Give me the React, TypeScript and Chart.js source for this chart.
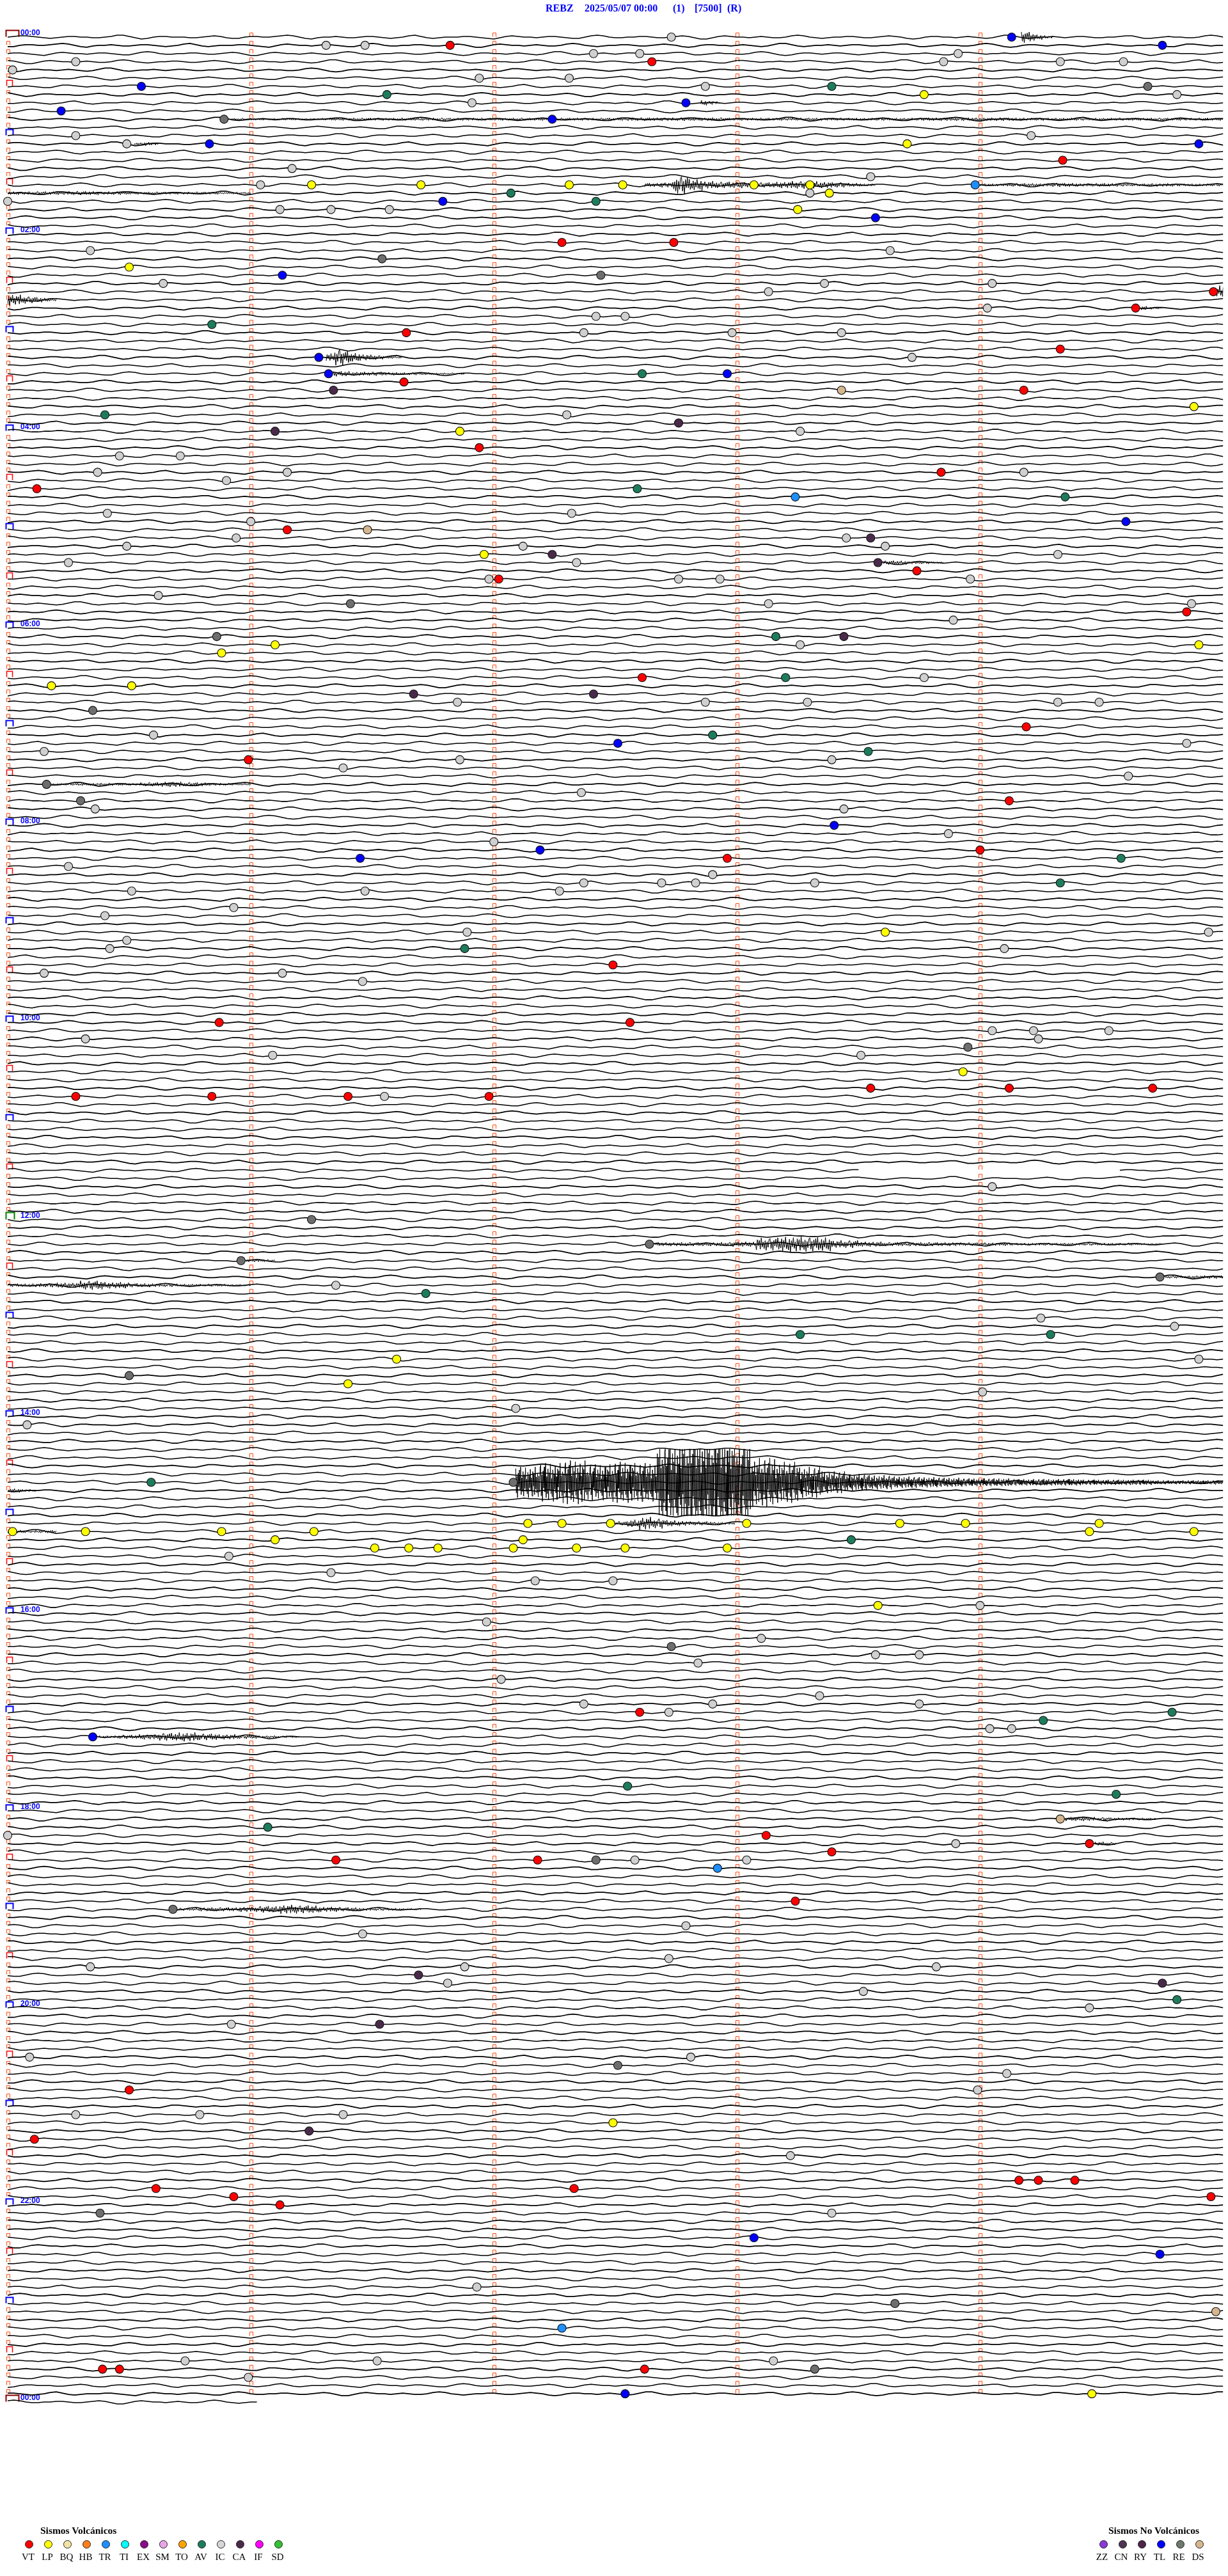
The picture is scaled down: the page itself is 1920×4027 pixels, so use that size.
import React, { useEffect, useRef } from "react";
import { Chart, registerables } from "chart.js";

Chart.register(...registerables);

// ---------- layout / scale constants ----------
const MINUTES_PER_LINE = 5;
const LINE_COUNT = 289;
const LAST_LINE_MINUTES = 1.03;
const SAMPLE_STEP = 0.025;
const EVENT_STEP = 0.004;
const BIG_STEP = 0.0025;
const PX_PER_LINE = 12.837;

// ---------- text ----------
const TITLE_PARTS = ["REBZ", "2025/05/07 00:00", "(1)", "[7500]", "(R)"];
const HOUR_LABELS = ["00:00", "02:00", "04:00", "06:00", "08:00", "10:00", "12:00", "14:00", "16:00", "18:00", "20:00", "22:00", "00:00"];

const VOLC_CODES = ["VT", "LP", "BQ", "HB", "TR", "TI", "EX", "SM", "TO", "AV", "IC", "CA", "IF", "SD"];
const VOLC_COLORS = ["#FF0000", "#FFFF00", "#F3E3A6", "#FF7F1E", "#1E8FFF", "#00FFFF", "#8B0A8B", "#E8A6E8", "#FFA500", "#1E7C5E", "#D6D6D6", "#4A2A4A", "#FF00FF", "#33C033"];
const NONVOLC_CODES = ["ZZ", "CN", "RY", "TL", "RE", "DS"];
const NONVOLC_COLORS = ["#8A3AD6", "#4E3552", "#4A2648", "#0000FF", "#70786F", "#D5B68E"];

// ---------- background noise (px, typical microseism pattern read from the record) ----------
const NOISE = [
  0, 1, 2, 2, 1, 0, -1, -2, -1, 0, 1, 1, 0, 0, -1, -1, 0, 1, 3, 3,
  1, -1, -3, -2, 0, 1, 1, 0, 0, 0, -1, -1, 0, 1, 2, 1, -1, -2, -2, 0,
  1, 1, 0, 0, 1, 2, 3, 2, 0, -2, -3, -1, 0, 0, 1, 0, -1, -1, 0, 1,
  1, 0, -1, -2, -1, 0, 2, 3, 1, -1, -2, -1, 0, 0, 0, 1, 1, 0, -1, -2,
  -3, -1, 1, 2, 1, 0, 0, -1, 0, 1, 1, 0, -1, -2, -2, 0, 2, 3, 2, 0,
  -1, -1, 0, 0, 1, 1, 0, -1, -1, 0, 1, 2, 1, -1, -3, -3, -1, 1, 2, 1,
  0, 0, -1, 0, 1, 0, -1, -1, 0, 2, 3, 2, 0, -1, -2, -1, 0, 0, 1, 1,
  0, -1, -1, 0, 1, 2, 1, 0, -2, -3, -2, 0, 1, 1, 0, 0, -1, 0, 1, 0,
  -1, -2, -1, 1, 3, 3, 1, -1, -2, -1, 0, 0, 1, 0, -1, 0, 1, 1, 0, -1,
  -1, 0, 0, 1, 2, 2, 0, -2, -2, -1, 0, 1, 0, 0, -1, -1, 0, 2, 3, 2,
  0, -2, -3, -2, 0, 1, 1, 0, -1, 0, 1, 1, 0, -1, -2, -1, 0, 1, 2, 1,
  0, -1, -1, 0, 0, 1, 0, -1, -2, -2, 0, 2, 2, 1, 0, -1, 0, 0, 1, 0,
];

const JITTER = [0.9, -0.7, 0.4, -1, 0.6, -0.3, 0.8, -0.5, 1, -0.8, 0.3, -0.6, 0.7, -0.9, 0.5, -0.4, 0.95, -0.6, 0.2, -0.75, 0.65, -1, 0.45, -0.35, 0.85, -0.55, 0.3, -0.9, 0.7, -0.25, 0.6, -0.8, 1, -0.45, 0.35, -0.7, 0.55, -0.95, 0.4, -0.5, 0.75];

// data gap
const GAP_LINE = [138];
const GAP_START = [3.52];
const GAP_END = [4.56];

// ---------- recorded waveforms (line, start min, end min, envelope px) ----------
const EVT_LINE = [0, 8, 10, 13, 18, 18, 19, 31, 32, 33, 39, 41, 64, 91, 147, 149, 151, 152, 177, 181, 182, 207, 217, 220, 228];
const EVT_START = [4.17, 2.85, 0.92, 0.52, 2.62, 4.0, 0.0, 4.97, 0.0, 4.66, 1.31, 1.34, 3.6, 0.18, 2.66, 0.98, 4.76, 0.0, 0.0, 2.5, 0.0, 0.37, 4.35, 4.47, 0.7];
const EVT_END = [4.3, 2.93, 5.0, 0.62, 3.57, 5.0, 1.0, 5.0, 0.2, 4.75, 1.62, 1.88, 3.85, 1.0, 4.75, 1.1, 5.0, 1.0, 0.12, 2.99, 0.2, 1.2, 4.72, 4.56, 1.7];
const EVT_ENV = [
  [9, 8, 6, 4, 3, 2],
  [4, 3, 2],
  [1.5, 2, 2, 2, 2.5, 2, 2, 2.5, 2, 2],
  [2, 3, 2],
  [3, 4, 14, 9, 6, 5, 5, 4, 4, 5, 6, 6, 5, 4, 3, 2],
  [2, 2.5, 2.5, 3, 2.5, 2.5, 2, 2.5, 2, 2],
  [2.5, 2.5, 3, 2.5, 2, 2, 2, 1.5],
  [8, 10],
  [9, 8, 6, 5, 4, 3, 2],
  [3, 2, 1.5],
  [6, 13, 10, 7, 5, 4, 3, 2, 1.5],
  [4, 3, 3, 2.5, 2, 2, 1.5, 1.5],
  [3, 3, 2, 2, 1.5],
  [1.5, 2, 2, 2, 3, 4, 3, 2, 1.5],
  [3, 3, 3, 4, 10, 12, 11, 6, 4, 3, 3, 3, 2.5, 2.5, 2, 2, 2, 2, 2, 1.5],
  [2, 2, 1.5],
  [2, 2.5],
  [2.5, 3, 4, 7, 5, 3, 2.5, 2, 2, 1.5],
  [3, 2],
  [3, 6, 10, 8, 5, 4, 3, 3, 2, 2],
  [2.5, 2, 2],
  [2, 3, 4, 6, 7, 5, 4, 3, 2, 1.5],
  [3, 3, 2.5, 2, 2, 1.5],
  [3, 2],
  [2, 3, 3, 4, 5, 7, 6, 4, 3, 2, 2, 1.5],
];

// large event on the 14:40 line
const BIG_LINE = 176;
const BIG_START = 2.09;
const BIG_END = 5.0;
const BIG_CLIP = 52;
const BIG_ENV = [24, 30, 34, 28, 32, 30, 64, 74, 76, 70, 38, 32, 24, 17, 13, 11, 9, 8, 7, 6, 6, 5, 5, 5, 4, 4, 4, 3, 3, 3];

// ---------- classified events: [line index (5-min rows), minute within row] ----------
const VT_EVENTS = [[1, 1.82], [3, 2.65], [15, 4.34], [25, 2.28], [25, 2.74], [31, 4.96], [33, 4.64], [36, 1.64], [38, 4.33], [42, 1.63], [43, 4.18], [50, 1.94], [53, 3.84], [55, 0.12], [60, 1.15], [65, 3.74], [66, 2.02], [70, 4.85], [78, 2.61], [84, 4.19], [88, 0.99], [93, 4.12], [99, 4.0], [100, 2.96], [113, 2.49], [120, 0.87], [120, 2.56], [128, 3.55], [128, 4.12], [128, 4.71], [129, 0.28], [129, 0.84], [129, 1.4], [129, 1.98], [204, 2.6], [219, 3.12], [220, 4.45], [221, 3.39], [222, 1.35], [222, 2.18], [227, 3.24], [250, 0.5], [256, 0.11], [261, 4.16], [261, 4.24], [261, 4.39], [262, 0.61], [262, 2.33], [263, 0.93], [263, 4.95], [264, 1.12], [284, 0.39], [284, 0.46], [284, 2.62]];
const LP_EVENTS = [[7, 3.77], [13, 3.7], [18, 1.25], [18, 1.7], [18, 2.31], [18, 2.53], [18, 3.07], [18, 3.3], [19, 3.38], [21, 3.25], [28, 0.5], [45, 4.88], [48, 1.86], [63, 1.96], [74, 1.1], [74, 4.9], [75, 0.88], [79, 0.18], [79, 0.51], [109, 3.61], [126, 3.93], [161, 1.6], [164, 1.4], [181, 2.14], [181, 2.28], [181, 2.48], [181, 3.04], [181, 3.67], [181, 3.94], [181, 4.49], [182, 0.02], [182, 0.32], [182, 0.88], [182, 1.26], [182, 4.45], [182, 4.88], [183, 1.1], [183, 2.12], [184, 1.51], [184, 1.65], [184, 1.77], [184, 2.08], [184, 2.34], [184, 2.54], [184, 2.96], [191, 3.58], [254, 2.49], [287, 4.46]];
const TR_EVENTS = [[18, 3.98], [56, 3.24], [223, 2.92], [279, 2.28]];
const AV_EVENTS = [[6, 3.39], [7, 1.56], [19, 2.07], [20, 2.42], [35, 0.84], [41, 2.61], [46, 0.4], [55, 2.59], [56, 4.35], [73, 3.16], [78, 3.2], [85, 2.9], [87, 3.54], [100, 4.58], [103, 4.33], [111, 1.88], [153, 1.72], [158, 3.26], [158, 4.29], [176, 0.59], [183, 3.47], [204, 4.79], [205, 4.26], [213, 2.55], [214, 4.56], [218, 1.07], [239, 4.81]];
const IC_EVENTS = [[0, 2.73], [1, 1.31], [1, 1.47], [2, 2.41], [2, 2.6], [2, 3.91], [3, 0.28], [3, 3.85], [3, 4.33], [3, 4.59], [4, 0.02], [5, 1.94], [5, 2.31], [6, 2.87], [7, 4.81], [8, 1.91], [12, 0.28], [12, 4.21], [13, 0.49], [16, 1.17], [17, 3.55], [18, 1.04], [19, 3.3], [20, 0.0], [21, 1.12], [21, 1.33], [21, 1.57], [26, 0.34], [26, 3.63], [30, 0.64], [30, 3.36], [30, 4.05], [31, 3.13], [33, 4.03], [34, 2.42], [34, 2.54], [36, 2.37], [36, 2.98], [36, 3.43], [39, 3.72], [46, 2.3], [48, 3.26], [51, 0.46], [51, 0.71], [53, 0.37], [53, 1.15], [53, 4.18], [54, 0.9], [58, 0.41], [58, 2.32], [59, 1.0], [61, 0.94], [61, 3.45], [62, 0.49], [62, 2.12], [62, 3.61], [63, 4.32], [64, 0.25], [64, 2.34], [66, 1.98], [66, 2.76], [66, 2.93], [66, 3.96], [68, 0.62], [69, 3.13], [69, 4.87], [71, 3.89], [74, 3.26], [78, 3.77], [81, 1.85], [81, 2.87], [81, 3.29], [81, 4.32], [81, 4.49], [85, 0.6], [86, 4.85], [87, 0.15], [88, 1.86], [88, 3.39], [89, 1.38], [90, 4.61], [92, 2.36], [94, 0.36], [94, 3.44], [97, 3.87], [98, 2.0], [101, 0.25], [102, 2.9], [103, 2.37], [103, 2.69], [103, 2.83], [103, 3.32], [104, 0.51], [104, 1.47], [104, 2.27], [106, 0.93], [107, 0.4], [109, 1.89], [109, 4.94], [110, 0.49], [111, 0.42], [111, 4.1], [114, 0.15], [114, 1.13], [115, 1.46], [121, 4.05], [121, 4.22], [121, 4.53], [122, 0.32], [122, 4.24], [124, 1.09], [124, 3.51], [129, 1.55], [140, 4.05], [152, 1.35], [156, 4.25], [157, 4.8], [161, 4.9], [165, 4.01], [167, 2.09], [169, 0.08], [185, 0.91], [187, 1.33], [188, 2.17], [188, 2.49], [191, 4.0], [193, 1.97], [195, 3.1], [197, 3.57], [197, 3.75], [198, 2.84], [200, 2.03], [202, 3.34], [203, 2.37], [203, 2.9], [203, 3.75], [204, 2.72], [206, 4.04], [206, 4.13], [219, 0.0], [220, 3.9], [222, 2.58], [222, 3.04], [230, 2.79], [231, 1.46], [234, 2.72], [235, 0.34], [235, 1.88], [235, 3.82], [237, 1.81], [238, 3.52], [240, 4.45], [242, 0.92], [246, 0.09], [246, 2.81], [248, 4.11], [250, 3.99], [253, 0.28], [253, 0.79], [253, 1.38], [258, 3.22], [265, 3.39], [274, 1.93], [283, 0.73], [283, 1.52], [283, 3.15], [285, 0.99]];
const CA_EVENTS = [[43, 1.34], [47, 2.76], [48, 1.1], [61, 3.55], [63, 2.24], [64, 3.58], [73, 3.44], [80, 1.67], [80, 2.41], [236, 1.69], [237, 4.75], [242, 1.53], [255, 1.24]];
const TL_EVENTS = [[0, 4.13], [1, 4.75], [6, 0.55], [8, 2.79], [9, 0.22], [10, 2.24], [13, 0.83], [13, 4.9], [20, 1.79], [22, 3.57], [29, 1.13], [39, 1.28], [41, 1.32], [41, 2.96], [59, 4.6], [86, 2.51], [96, 3.4], [99, 2.19], [100, 1.45], [207, 0.35], [268, 3.07], [270, 4.74], [287, 2.54]];
const RE_EVENTS = [[6, 4.69], [10, 0.89], [27, 1.54], [29, 2.44], [69, 1.41], [73, 0.86], [82, 0.35], [91, 0.16], [93, 0.3], [123, 3.95], [144, 1.25], [147, 2.64], [149, 0.96], [151, 4.74], [163, 0.5], [176, 2.08], [196, 2.73], [222, 2.42], [228, 0.68], [247, 2.51], [265, 0.38], [276, 3.65], [284, 3.32]];
const DS_EVENTS = [[43, 3.43], [60, 1.48], [217, 4.33], [277, 4.97]];

const EVENT_GROUPS = [
  { code: "VT", color: "#FF0000", pts: VT_EVENTS },
  { code: "LP", color: "#FFFF00", pts: LP_EVENTS },
  { code: "TR", color: "#1E8FFF", pts: TR_EVENTS },
  { code: "AV", color: "#1E7C5E", pts: AV_EVENTS },
  { code: "IC", color: "#D0D0D0", pts: IC_EVENTS },
  { code: "CA", color: "#4A2A4A", pts: CA_EVENTS },
  { code: "TL", color: "#0000FF", pts: TL_EVENTS },
  { code: "RE", color: "#6E6E6E", pts: RE_EVENTS },
  { code: "DS", color: "#D5B68E", pts: DS_EVENTS },
];

// ---------- builders ----------
function buildTrace(i: number) {
  const pts: { x: number; y: number | null }[] = [];
  const maxX = i === LINE_COUNT - 1 ? LAST_LINE_MINUTES : MINUTES_PER_LINE;
  const n = Math.round(maxX / SAMPLE_STEP);
  for (let k = 0; k <= n; k++) {
    const x = k * SAMPLE_STEP;
    let y: number | null = i - NOISE[(i * 37 + k) % NOISE.length] / PX_PER_LINE;
    for (let g = 0; g < GAP_LINE.length; g++) {
      if (GAP_LINE[g] === i && x > GAP_START[g] && x < GAP_END[g]) y = null;
    }
    pts.push({ x, y });
  }
  return pts;
}

function buildEvent(line: number, start: number, end: number, env: number[]) {
  const n = Math.max(2, Math.round((end - start) / EVENT_STEP));
  const pts: { x: number; y: number }[] = [];
  for (let k = 0; k <= n; k++) {
    const e = env[Math.min(env.length - 1, Math.floor((k * env.length) / n))];
    const v = e * JITTER[(k + line * 7) % JITTER.length];
    pts.push({ x: Math.min(end, start + k * EVENT_STEP), y: line - v / PX_PER_LINE });
  }
  return pts;
}

function buildBig() {
  const n = Math.round((BIG_END - BIG_START) / BIG_STEP);
  const pts: { x: number; y: number }[] = [];
  for (let k = 0; k <= n; k++) {
    const e = BIG_ENV[Math.min(BIG_ENV.length - 1, Math.floor((k * BIG_ENV.length) / n))];
    let v = e * JITTER[k % JITTER.length];
    v = Math.max(-BIG_CLIP, Math.min(BIG_CLIP, v));
    pts.push({ x: BIG_START + k * BIG_STEP, y: BIG_LINE - v / PX_PER_LINE });
  }
  return pts;
}

const markerPlugin = {
  id: "heliMarkers",
  beforeDatasetsDraw(chart: any) {
    const { ctx } = chart;
    const xs = chart.scales.x;
    const ys = chart.scales.y;
    ctx.save();
    for (let i = 0; i < LINE_COUNT; i++) {
      const y = Math.round(ys.getPixelForValue(i)) + 0.5;
      const maxMin = i === LINE_COUNT - 1 ? 0 : 4;
      for (let k = 0; k <= maxMin; k++) {
        const x = Math.round(xs.getPixelForValue(k)) + 0.5;
        let color = "#FF4A10";
        let w = 5;
        let h = 6;
        let lw = 1;
        let x0 = x - 2;
        if (k === 0) {
          if (i === 0 || i === LINE_COUNT - 1) {
            color = "#8B0000"; w = 20; h = 10; lw = 2; x0 = x - 3;
          } else if (i === 144) {
            color = "#008000"; w = 13; h = 11; lw = 2; x0 = x - 3;
          } else if (i % 12 === 0) {
            color = "#0000FF"; w = 11; h = 9; lw = 2; x0 = x - 3;
          } else if (i % 6 === 0) {
            color = "#FF0000"; w = 9; h = 9; lw = 1.5; x0 = x - 2;
          }
        }
        ctx.strokeStyle = color;
        ctx.lineWidth = lw;
        ctx.beginPath();
        ctx.moveTo(x0, y - 1);
        ctx.lineTo(x0, y - 1 - h);
        ctx.lineTo(x0 + w, y - 1 - h);
        ctx.lineTo(x0 + w, y - 1);
        ctx.stroke();
      }
      if (i % 24 === 0) {
        ctx.fillStyle = "#0000FF";
        ctx.font = 'bold 12px "Liberation Sans", Arial, sans-serif';
        ctx.textBaseline = "middle";
        ctx.textAlign = "left";
        ctx.fillText(HOUR_LABELS[i / 24], 32, y - 7);
      }
    }
    ctx.restore();
  },
};

function Helicorder() {
  const ref = useRef<HTMLCanvasElement | null>(null);
  useEffect(() => {
    if (!ref.current) return;
    const datasets: any[] = [];
    EVENT_GROUPS.forEach((g) => {
      datasets.push({
        label: g.code,
        data: g.pts.map((p) => ({ x: p[1], y: p[0] })),
        showLine: false,
        pointRadius: 6.5,
        pointBackgroundColor: g.color,
        pointBorderColor: "#111",
        pointBorderWidth: 1.1,
        order: 0,
        clip: false,
      });
    });
    datasets.push({
      label: "big",
      data: buildBig(),
      borderColor: "#000",
      borderWidth: 1,
      pointRadius: 0,
      order: 1,
    });
    for (let e = 0; e < EVT_LINE.length; e++) {
      datasets.push({
        label: "evt" + e,
        data: buildEvent(EVT_LINE[e], EVT_START[e], EVT_END[e], EVT_ENV[e]),
        borderColor: "#000",
        borderWidth: 1,
        pointRadius: 0,
        order: 1,
      });
    }
    for (let i = 0; i < LINE_COUNT; i++) {
      datasets.push({
        label: "line" + i,
        data: buildTrace(i),
        borderColor: "#000",
        borderWidth: 1.6,
        pointRadius: 0,
        spanGaps: false,
        order: 2,
      });
    }
    const chart = new Chart(ref.current, {
      type: "line",
      data: { datasets },
      options: {
        responsive: false,
        animation: false,
        devicePixelRatio: 1,
        events: [],
        layout: { padding: { left: 12, right: 3, top: 19.5, bottom: 233.5 } },
        plugins: { legend: { display: false }, tooltip: { enabled: false }, title: { display: false } },
        elements: { line: { tension: 0, borderJoinStyle: "round" } },
        scales: {
          x: { type: "linear", min: 0, max: MINUTES_PER_LINE, display: false },
          y: { type: "linear", min: -3, max: 291, reverse: true, display: false },
        },
      },
      plugins: [markerPlugin],
    } as any);
    return () => chart.destroy();
  }, []);
  return <canvas ref={ref} width={1920} height={4027} style={{ display: "block", position: "absolute", left: 0, top: 0 }} />;
}

const TITLE_LEFT = [853, 914, 1052, 1086, 1137];

export default function App() {
  const serif = '"Liberation Serif", "Times New Roman", serif';
  return (
    <div style={{ position: "absolute", left: 0, top: 0, width: 1920, height: 4027, background: "#fff", overflow: "hidden" }}>
      <Helicorder />
      {TITLE_PARTS.map((t, i) => (
        <div key={t} style={{ position: "absolute", left: TITLE_LEFT[i], top: 4, fontFamily: serif, fontWeight: "bold", fontSize: 16, lineHeight: "18px", color: "#0000FF", whiteSpace: "pre" }}>{t}</div>
      ))}
      <div style={{ position: "absolute", left: 63, top: 3947, fontFamily: serif, fontWeight: "bold", fontSize: 15.5, lineHeight: "18px", color: "#000", whiteSpace: "pre" }}>Sismos Volcánicos</div>
      {VOLC_CODES.map((c, j) => (
        <React.Fragment key={c}>
          <div style={{ position: "absolute", left: 45 + 30 * j - 6.5, top: 3970.5, width: 11, height: 11, borderRadius: "50%", background: VOLC_COLORS[j], border: "1px solid #222" }} />
          <div style={{ position: "absolute", left: 45 + 30 * j - 20, width: 38, top: 3988, textAlign: "center", fontFamily: serif, fontSize: 15, lineHeight: "18px", color: "#000" }}>{c}</div>
        </React.Fragment>
      ))}
      <div style={{ position: "absolute", left: 1733, top: 3947, fontFamily: serif, fontWeight: "bold", fontSize: 15.5, lineHeight: "18px", color: "#000", whiteSpace: "pre" }}>Sismos No Volcánicos</div>
      {NONVOLC_CODES.map((c, j) => (
        <React.Fragment key={c}>
          <div style={{ position: "absolute", left: 1725 + 30 * j - 6.5, top: 3970.5, width: 11, height: 11, borderRadius: "50%", background: NONVOLC_COLORS[j], border: "1px solid #222" }} />
          <div style={{ position: "absolute", left: 1725 + 30 * j - 21, width: 38, top: 3988, textAlign: "center", fontFamily: serif, fontSize: 15, lineHeight: "18px", color: "#000" }}>{c}</div>
        </React.Fragment>
      ))}
    </div>
  );
}
